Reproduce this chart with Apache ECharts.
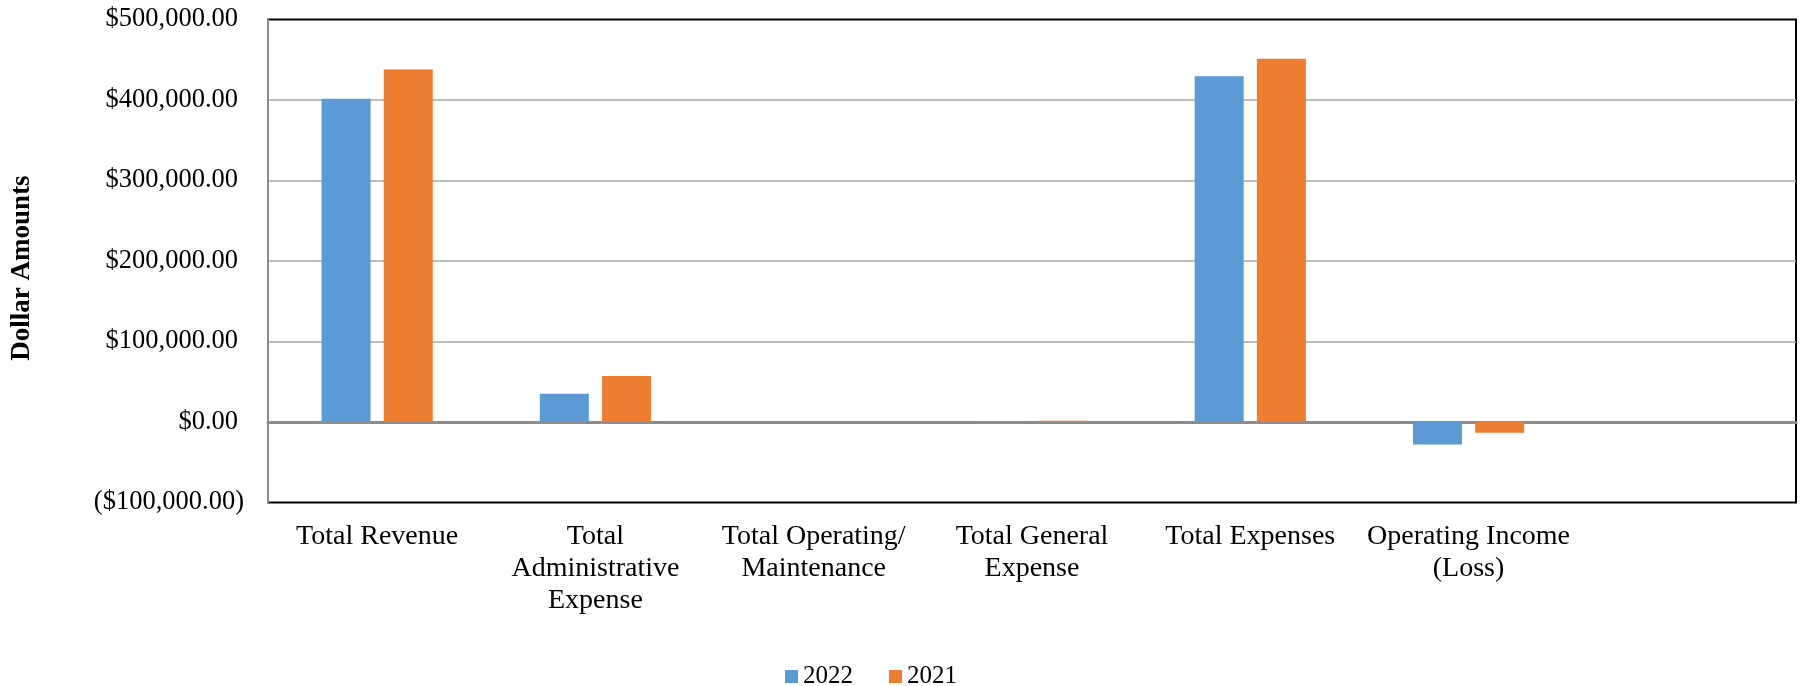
<!DOCTYPE html>
<html>
<head>
<meta charset="utf-8">
<title>Revenue and Expenses</title>
<script src="https://cdn.jsdelivr.net/npm/echarts@6/dist/echarts.min.js"></script>
<style>
  html, body { margin: 0; padding: 0; background: #fff; }
  #main { width: 1803px; height: 686px; }
</style>
</head>
<body>
<div id="main"></div>
<script>
var categories = [
    'Total Revenue',
    'Total\nAdministrative\nExpense',
    'Total Operating/\nMaintenance',
    'Total General\nExpense',
    'Total Expenses',
    'Operating Income\n(Loss)',
    ''
];
var years = ['2022', '2021'];
var data2022 = [401500, 35000, 0, 500, 429400, -27900];
var data2021 = [437800, 57000, 0, 1500, 451200, -13400];
var yTicks = { min: -100000, max: 500000, interval: 100000 };

var myChart = echarts.init(document.getElementById('main'));

// $123,456.00 / ($100,000.00) - positives keep room for the ")"
function money(v) {
    var s = '$' + Math.abs(v).toLocaleString('en-US', { minimumFractionDigits: 2, maximumFractionDigits: 2 });
    return v < 0 ? '{n|(' + s + ')}' : '{p|' + s + '}';
}

var font = 'Liberation Serif, Times New Roman, serif';

option = {
    backgroundColor: '#fff',
    animation: false,
    color: ['#5B9BD5', '#ED7D31'],
    textStyle: { fontFamily: font, color: '#000' },
    legend: {
        data: years,
        left: 780,
        top: 659,
        icon: 'rect',
        itemWidth: 13,
        itemHeight: 13,
        itemGap: 36,
        textStyle: { fontFamily: font, fontSize: 25, color: '#000' }
    },
    grid: {
        left: 268,
        right: 7,
        top: 19.5,
        bottom: 183.5,
        show: true,
        borderColor: '#000',
        borderWidth: 2,
        containLabel: false
    },
    xAxis: [{
        type: 'category',
        data: categories,
        position: 'bottom',
        axisLine: { show: false, onZero: false },
        axisTick: { show: false },
        splitLine: { show: false },
        axisLabel: {
            interval: 0,
            margin: 18,
            fontFamily: font,
            fontSize: 28,
            lineHeight: 32,
            color: '#000',
            align: 'center'
        }
    }, {
        // zero line
        type: 'category',
        data: categories,
        position: 'bottom',
        axisLine: { show: true, onZero: true, lineStyle: { color: '#8c8c8c', width: 3 } },
        axisTick: { show: false },
        axisLabel: { show: false },
        splitLine: { show: false }
    }],
    yAxis: {
        type: 'value',
        min: yTicks.min,
        max: yTicks.max,
        interval: yTicks.interval,
        name: 'Dollar Amounts',
        nameLocation: 'middle',
        nameRotate: 90,
        nameGap: 232,
        nameTextStyle: {
            fontFamily: font,
            fontSize: 27,
            fontWeight: 'bold',
            color: '#000',
            padding: [0, 14, 0, 0]
        },
        axisLine: { show: true, lineStyle: { color: '#8c8c8c', width: 2 } },
        axisTick: { show: false },
        axisLabel: {
            margin: 24,
            formatter: money,
            rich: {
                p: { fontFamily: font, fontSize: 26.5, color: '#000', padding: [0, 6, 0, 0] },
                n: { fontFamily: font, fontSize: 26.5, color: '#000' }
            }
        },
        splitLine: {
            show: true,
            showMinLine: false,
            showMaxLine: false,
            lineStyle: { color: '#a6a6a6', width: 1.5 }
        }
    },
    series: [{
        name: years[0],
        type: 'bar',
        xAxisIndex: 0,
        barWidth: 49,
        barGap: '27%',
        data: data2022
    }, {
        name: years[1],
        type: 'bar',
        xAxisIndex: 0,
        barWidth: 49,
        barGap: '27%',
        data: data2021
    }]
};

myChart.setOption(option);
</script>
</body>
</html>
